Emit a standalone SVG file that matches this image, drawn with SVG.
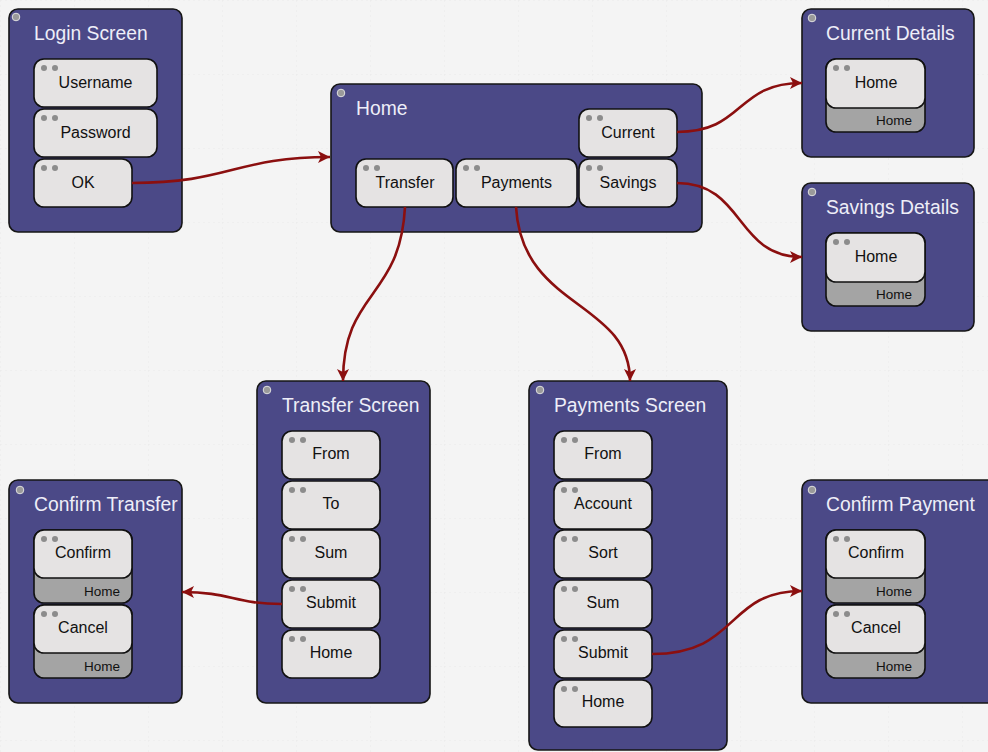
<svg xmlns="http://www.w3.org/2000/svg" width="988" height="752" viewBox="0 0 988 752">
<style>
.bg{fill:#f4f4f4}
.node{fill:#4b4987;stroke:#161616;stroke-width:1.6}
.pin{fill:#9a9a9a;stroke:#e0e0e0;stroke-width:1}
.title{font-family:"Liberation Sans",Arial,sans-serif;font-size:19.3px;fill:#eeeef8}
.btn{fill:#e5e3e3;stroke:#111;stroke-width:1.6}
.dark{fill:#a4a4a4;stroke:#111;stroke-width:1.6}
.dot{fill:#8c8c8c}
.lbl{font-family:"Liberation Sans",Arial,sans-serif;font-size:16px;fill:#111;text-anchor:middle}
.sm{font-family:"Liberation Sans",Arial,sans-serif;font-size:13.5px;fill:#111;text-anchor:end}
.conn{fill:none;stroke:#8b0f0f;stroke-width:2.6}
</style>
<defs>
<marker id="ah" markerUnits="userSpaceOnUse" markerWidth="14" markerHeight="12" refX="12" refY="6" orient="auto">
<path d="M0,0 L12,6 L0,12 L3,6 Z" fill="#8b0f0f"/>
</marker>
<pattern id="grid" width="74" height="74" patternUnits="userSpaceOnUse">
<path d="M0,0 H74 M0,0 V74" fill="none" stroke="#e9e9e9" stroke-width="1" stroke-dasharray="2,3"/>
</pattern>
</defs>
<rect class="bg" x="0" y="0" width="988" height="752"/>
<rect x="0" y="0" width="988" height="752" fill="url(#grid)"/>

<g id="login-screen">
<rect class="node" x="9" y="9" width="173" height="223" rx="9"/>
<circle class="pin" cx="16" cy="17" r="3.8"/>
<text class="title" x="34" y="40">Login Screen</text>
<rect class="btn" x="34" y="59" width="123" height="48" rx="10"/><circle class="dot" cx="44" cy="68" r="3"/><circle class="dot" cx="55" cy="68" r="3"/><text class="lbl" x="95.5" y="88">Username</text>
<rect class="btn" x="34" y="109" width="123" height="48" rx="10"/><circle class="dot" cx="44" cy="118" r="3"/><circle class="dot" cx="55" cy="118" r="3"/><text class="lbl" x="95.5" y="138">Password</text>
<rect class="btn" x="34" y="159" width="98" height="48" rx="10"/><circle class="dot" cx="44" cy="168" r="3"/><circle class="dot" cx="55" cy="168" r="3"/><text class="lbl" x="83" y="188">OK</text>
</g>

<g id="home">
<rect class="node" x="331" y="84" width="371" height="148" rx="9"/>
<circle class="pin" cx="341" cy="93" r="3.8"/>
<text class="title" x="356" y="115">Home</text>
<rect class="btn" x="579" y="109" width="98" height="48" rx="10"/><circle class="dot" cx="589" cy="118" r="3"/><circle class="dot" cx="600" cy="118" r="3"/><text class="lbl" x="628" y="138">Current</text>
<rect class="btn" x="356" y="159" width="97" height="48" rx="10"/><circle class="dot" cx="366" cy="168" r="3"/><circle class="dot" cx="377" cy="168" r="3"/><text class="lbl" x="405" y="188">Transfer</text>
<rect class="btn" x="456" y="159" width="121" height="48" rx="10"/><circle class="dot" cx="466" cy="168" r="3"/><circle class="dot" cx="477" cy="168" r="3"/><text class="lbl" x="516.5" y="188">Payments</text>
<rect class="btn" x="579" y="159" width="98" height="48" rx="10"/><circle class="dot" cx="589" cy="168" r="3"/><circle class="dot" cx="600" cy="168" r="3"/><text class="lbl" x="628" y="188">Savings</text>
</g>

<g id="current-details">
<rect class="node" x="802" y="9" width="172" height="148" rx="9"/>
<circle class="pin" cx="812" cy="18" r="3.8"/>
<text class="title" x="826" y="40">Current Details</text>
<rect class="dark" x="826" y="59" width="99" height="73" rx="10"/>
<rect class="btn" x="826" y="59" width="99" height="49" rx="10"/><circle class="dot" cx="836" cy="68" r="3"/><circle class="dot" cx="847" cy="68" r="3"/><text class="lbl" x="876" y="88">Home</text>
<text class="sm" x="912" y="125">Home</text>
</g>

<g id="savings-details">
<rect class="node" x="802" y="183" width="172" height="148" rx="9"/>
<circle class="pin" cx="812" cy="192" r="3.8"/>
<text class="title" x="826" y="214">Savings Details</text>
<rect class="dark" x="826" y="233" width="99" height="73" rx="10"/>
<rect class="btn" x="826" y="233" width="99" height="49" rx="10"/><circle class="dot" cx="836" cy="242" r="3"/><circle class="dot" cx="847" cy="242" r="3"/><text class="lbl" x="876" y="262">Home</text>
<text class="sm" x="912" y="299">Home</text>
</g>

<g id="transfer-screen">
<rect class="node" x="257" y="381" width="173" height="322" rx="9"/>
<circle class="pin" cx="267" cy="390" r="3.8"/>
<text class="title" x="282" y="412">Transfer Screen</text>
<rect class="btn" x="282" y="431" width="98" height="48" rx="10"/><circle class="dot" cx="292" cy="440" r="3"/><circle class="dot" cx="303" cy="440" r="3"/><text class="lbl" x="331" y="459">From</text>
<rect class="btn" x="282" y="481" width="98" height="48" rx="10"/><circle class="dot" cx="292" cy="490" r="3"/><circle class="dot" cx="303" cy="490" r="3"/><text class="lbl" x="331" y="509">To</text>
<rect class="btn" x="282" y="530" width="98" height="48" rx="10"/><circle class="dot" cx="292" cy="539" r="3"/><circle class="dot" cx="303" cy="539" r="3"/><text class="lbl" x="331" y="558">Sum</text>
<rect class="btn" x="282" y="580" width="98" height="48" rx="10"/><circle class="dot" cx="292" cy="589" r="3"/><circle class="dot" cx="303" cy="589" r="3"/><text class="lbl" x="331" y="608">Submit</text>
<rect class="btn" x="282" y="630" width="98" height="48" rx="10"/><circle class="dot" cx="292" cy="639" r="3"/><circle class="dot" cx="303" cy="639" r="3"/><text class="lbl" x="331" y="658">Home</text>
</g>

<g id="payments-screen">
<rect class="node" x="529" y="381" width="198" height="369" rx="9"/>
<circle class="pin" cx="540" cy="390" r="3.8"/>
<text class="title" x="554" y="412">Payments Screen</text>
<rect class="btn" x="554" y="431" width="98" height="48" rx="10"/><circle class="dot" cx="564" cy="440" r="3"/><circle class="dot" cx="575" cy="440" r="3"/><text class="lbl" x="603" y="459">From</text>
<rect class="btn" x="554" y="481" width="98" height="48" rx="10"/><circle class="dot" cx="564" cy="490" r="3"/><circle class="dot" cx="575" cy="490" r="3"/><text class="lbl" x="603" y="509">Account</text>
<rect class="btn" x="554" y="530" width="98" height="48" rx="10"/><circle class="dot" cx="564" cy="539" r="3"/><circle class="dot" cx="575" cy="539" r="3"/><text class="lbl" x="603" y="558">Sort</text>
<rect class="btn" x="554" y="580" width="98" height="48" rx="10"/><circle class="dot" cx="564" cy="589" r="3"/><circle class="dot" cx="575" cy="589" r="3"/><text class="lbl" x="603" y="608">Sum</text>
<rect class="btn" x="554" y="630" width="98" height="48" rx="10"/><circle class="dot" cx="564" cy="639" r="3"/><circle class="dot" cx="575" cy="639" r="3"/><text class="lbl" x="603" y="658">Submit</text>
<rect class="btn" x="554" y="680" width="98" height="47" rx="10"/><circle class="dot" cx="564" cy="689" r="3"/><circle class="dot" cx="575" cy="689" r="3"/><text class="lbl" x="603" y="707">Home</text>
</g>

<g id="confirm-transfer">
<rect class="node" x="9" y="480" width="173" height="223" rx="9"/>
<circle class="pin" cx="20" cy="490" r="3.8"/>
<text class="title" x="34" y="511">Confirm Transfer</text>
<rect class="dark" x="34" y="530" width="98" height="73" rx="10"/>
<rect class="btn" x="34" y="530" width="98" height="48" rx="10"/><circle class="dot" cx="44" cy="539" r="3"/><circle class="dot" cx="55" cy="539" r="3"/><text class="lbl" x="83" y="558">Confirm</text>
<text class="sm" x="120" y="596">Home</text>
<rect class="dark" x="34" y="605" width="98" height="73" rx="10"/>
<rect class="btn" x="34" y="605" width="98" height="48" rx="10"/><circle class="dot" cx="44" cy="614" r="3"/><circle class="dot" cx="55" cy="614" r="3"/><text class="lbl" x="83" y="633">Cancel</text>
<text class="sm" x="120" y="671">Home</text>
</g>

<g id="confirm-payment">
<rect class="node" x="802" y="480" width="200" height="223" rx="9"/>
<circle class="pin" cx="812" cy="490" r="3.8"/>
<text class="title" x="826" y="511">Confirm Payment</text>
<rect class="dark" x="826" y="530" width="99" height="73" rx="10"/>
<rect class="btn" x="826" y="530" width="99" height="48" rx="10"/><circle class="dot" cx="836" cy="539" r="3"/><circle class="dot" cx="847" cy="539" r="3"/><text class="lbl" x="876" y="558">Confirm</text>
<text class="sm" x="912" y="596">Home</text>
<rect class="dark" x="826" y="605" width="99" height="73" rx="10"/>
<rect class="btn" x="826" y="605" width="99" height="48" rx="10"/><circle class="dot" cx="836" cy="614" r="3"/><circle class="dot" cx="847" cy="614" r="3"/><text class="lbl" x="876" y="633">Cancel</text>
<text class="sm" x="912" y="671">Home</text>
</g>

<g id="connectors">
<path class="conn" marker-end="url(#ah)" d="M132,183 C230,183 235,157 330,157"/>
<path class="conn" marker-end="url(#ah)" d="M677,132 C745,132 735,83 802,83"/>
<path class="conn" marker-end="url(#ah)" d="M677,183 C745,183 735,257 802,257"/>
<path class="conn" marker-end="url(#ah)" d="M405,207 C400,300 343,290 343,381"/>
<path class="conn" marker-end="url(#ah)" d="M516,207 C522,310 630,300 630,381"/>
<path class="conn" marker-end="url(#ah)" d="M282,604 C235,604 230,592 182,592"/>
<path class="conn" marker-end="url(#ah)" d="M652,654 C740,654 725,591 802,591"/>
</g>
</svg>
